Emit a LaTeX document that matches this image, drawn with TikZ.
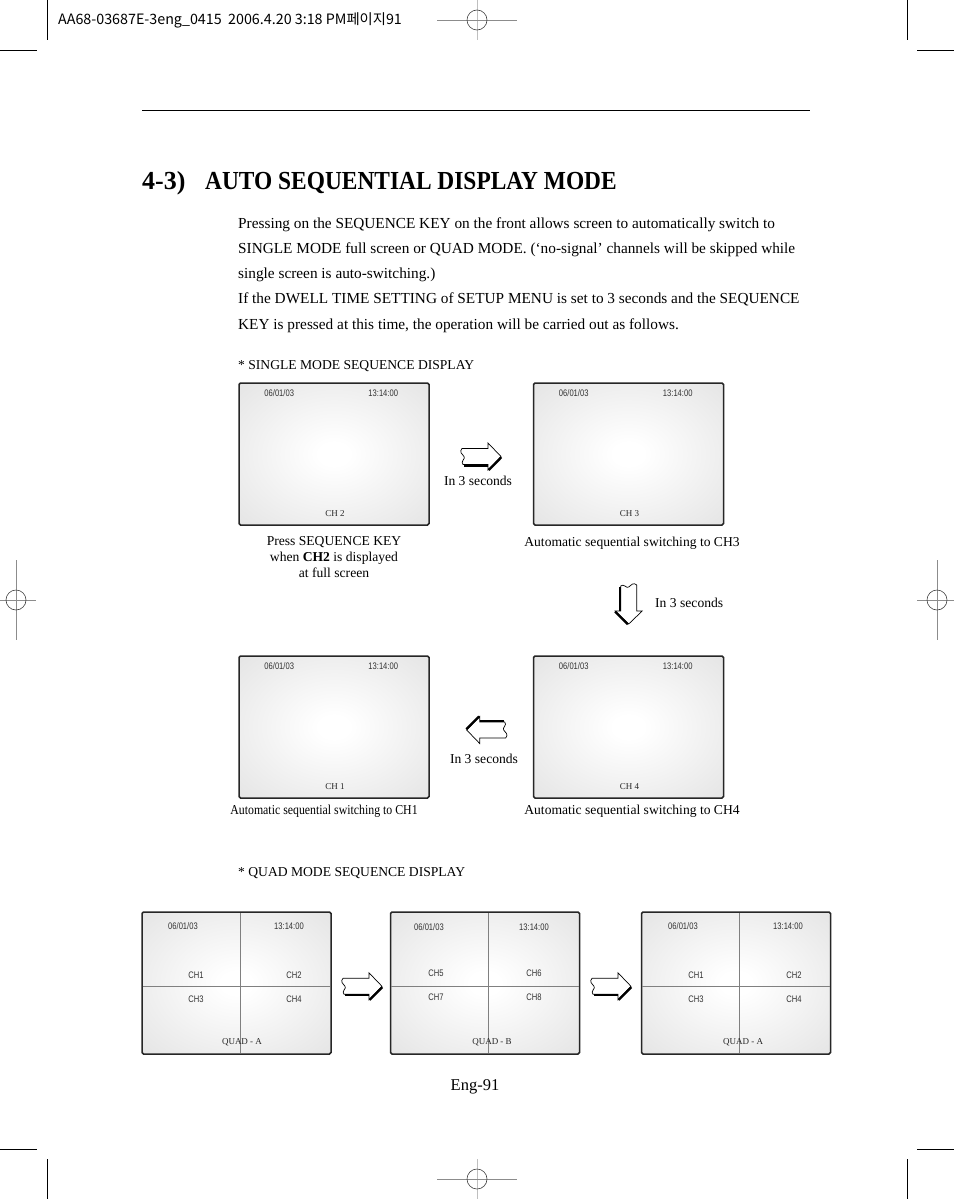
\documentclass[tikz,border=0pt]{standalone}
\usepackage{fontspec}
\setmainfont{Liberation Serif}
\newfontfamily\sansf{Liberation Sans}
\newfontfamily\krf{Noto Sans CJK KR}
\usetikzlibrary{calc}
\pgfdeclareradialshading{screenshade}{\pgfpoint{0bp}{0bp}}{color(0bp)=(white); color(4bp)=(white); color(50bp)=(black!15); color(71bp)=(black!20)}
\newcommand{\nar}[1]{\scalebox{0.8}[1]{#1}}
\tikzset{
  cropline/.style={black, line width=0.9},
  regline/.style={black!45, line width=0.6},
  regvline/.style={black!25, line width=0.8},
  regcirc/.style={black!75, line width=0.6},
  bodytext/.style={font=\fontsize{15.3}{25}\selectfont, anchor=base west, inner sep=0},
  captext/.style={font=\fontsize{13.6}{16}\selectfont, inner sep=0, align=center},
  screen/.style={draw=black!85, line width=1.5, rounded corners=1.5, minimum width=190, minimum height=142, inner sep=0, shading=screenshade},
  datef/.style={font=\sansf\fontsize{9.5}{10}\selectfont, inner sep=0, anchor=west, text=black!80},
  quadf/.style={font=\sansf\fontsize{9.5}{10}\selectfont, inner sep=0, text=black!80},
  chf/.style={font=\fontsize{9}{10}\selectfont, inner sep=0, text=black!85},
  divider/.style={black!50, line width=0.8},
  blockarrow/.pic={
    \draw[line width=0.7, fill=white, line join=miter] (1,-8) -- (27,-8) -- (27,-13.5) -- (40,0) -- (27,13.5) -- (27,8) -- (2,8) .. controls (-1,5) and (5,2) .. (3,0) .. controls (1,-2) and (-2,-5) .. (1,-8) -- cycle;
    \draw[line width=2.3] (3,9) -- (27,9);
    \draw[line width=2.3] (27.6,13.6) -- (40.3,0.8);
  }
}
\newcommand{\singlescreen}[4]{%
  \node[screen] (#1) at (#2,#3) {};
  \node[datef] (#1-date) at ($(#1.north west)+(26,11)$) {\nar{06/01/03}};
  \node[datef] (#1-time) at ($(#1.north west)+(130,11)$) {\nar{13:14:00}};
  \node[chf] (#1-ch) at ($(#1.south)+(1,-12)$) {#4};
}
\begin{document}
\begin{tikzpicture}[x=1pt,y=-1pt]
\useasboundingbox (0,0) rectangle (954,1199);
\fill[white] (0,0) rectangle (954,1199);

% crop marks
\draw[cropline] (47,0) -- (47,40);
\draw[cropline] (0,50) -- (37,50);
\draw[cropline] (907,0) -- (907,40);
\draw[cropline] (917,50) -- (954,50);
\draw[cropline] (0,1149) -- (37,1149);
\draw[cropline] (47,1159) -- (47,1199);
\draw[cropline] (917,1149) -- (954,1149);
\draw[cropline] (907,1159) -- (907,1199);

% registration marks
\draw[regvline] (477,0) -- (477,40);
\draw[regline] (437,20) -- (517,20);
\draw[regcirc] (477,20) circle (10);
\draw[regvline] (477,1159) -- (477,1199);
\draw[regline] (437,1179) -- (517,1179);
\draw[regcirc] (477,1179) circle (10);
\draw[regline] (16,560) -- (16,640);
\draw[regline] (0,600) -- (36,600);
\draw[regcirc] (16,600) circle (10);
\draw[regline] (937,560) -- (937,640);
\draw[regline] (917,600) -- (954,600);
\draw[regcirc] (937,600) circle (10);

% header
\node[anchor=west, inner sep=0, font=\krf\fontsize{14.3}{15}\selectfont] (header) at (58,20) {AA68-03687E-3eng\_0415 \ 2006.4.20 3:18 PM페이지91};

\draw[black, line width=0.9] (142,110) -- (810,110);

% title
\node[anchor=base west, inner sep=0, font=\bfseries\fontsize{26}{28}\selectfont] (num) at (142,189) {4-3)};
\node[anchor=base west, inner sep=0, font=\bfseries\fontsize{26}{28}\selectfont] (title) at (205,189) {\scalebox{0.9}[1]{AUTO SEQUENTIAL DISPLAY MODE}};

% body
\node[bodytext] (l1) at (238,228.5) {Pressing on the SEQUENCE KEY on the front allows screen to automatically switch to};
\node[bodytext] (l2) at (238,253.5) {SINGLE MODE full screen or QUAD MODE. (‘no-signal’ channels will be skipped while};
\node[bodytext] (l3) at (238,278.5) {single screen is auto-switching.)};
\node[bodytext] (l4) at (238,303.5) {If the DWELL TIME SETTING of SETUP MENU is set to 3 seconds and the SEQUENCE};
\node[bodytext] (l5) at (238,329.5) {KEY is pressed at this time, the operation will be carried out as follows.};

\node[captext, anchor=west] (single) at (238,366) {* SINGLE MODE SEQUENCE DISPLAY};

% single screens
\singlescreen{s2}{334}{454}{CH 2}
\singlescreen{s3}{628.5}{454}{CH 3}
\singlescreen{s1}{334}{727}{CH 1}
\singlescreen{s4}{628.5}{727}{CH 4}

% arrows
\pic at (461,456.5) {blockarrow};
\pic[rotate=-90] at (628.7,584) {blockarrow};
\pic[rotate=180] at (506.7,730) {blockarrow};

\node[captext] (t1) at (478,481) {In 3 seconds};
\node[captext, anchor=west] (t2) at (655,603) {In 3 seconds};
\node[captext] (t3) at (484,759) {In 3 seconds};

\node[captext] (c2) at (334,557) {Press SEQUENCE KEY\\when \textbf{CH2} is displayed\\at full screen};
\node[captext] (c3) at (632,543) {Automatic sequential switching to CH3};
\node[captext] (c1) at (324,811) {\scalebox{0.87}[1]{Automatic sequential switching to CH1}};
\node[captext] (c4) at (632,811) {Automatic sequential switching to CH4};

\node[captext, anchor=west] (quad) at (238,873) {* QUAD MODE SEQUENCE DISPLAY};

% quad screens
\node[screen, minimum width=189] (qa) at (236.5,983) {};
\draw[divider] (240,913) -- (240,1053);
\draw[divider] (143,986) -- (330,986);
\node[datef] (qa-date) at (168,926) {\nar{06/01/03}};
\node[datef] (qa-time) at (274,926) {\nar{13:14:00}};
\node[quadf] (qa-1) at (196,975) {\nar{CH1}};
\node[quadf] (qa-2) at (294,975) {\nar{CH2}};
\node[quadf] (qa-3) at (196,999) {\nar{CH3}};
\node[quadf] (qa-4) at (294,999) {\nar{CH4}};
\node[chf] (qa-l) at (242,1042) {QUAD - A};

\node[screen, minimum width=189] (qb) at (485,983) {};
\draw[divider] (488,913) -- (488,1053);
\draw[divider] (391,986) -- (579,986);
\node[datef] (qb-date) at (414,927) {\nar{06/01/03}};
\node[datef] (qb-time) at (519,927) {\nar{13:14:00}};
\node[quadf] (qb-5) at (436,973) {\nar{CH5}};
\node[quadf] (qb-6) at (534,973) {\nar{CH6}};
\node[quadf] (qb-7) at (436,997) {\nar{CH7}};
\node[quadf] (qb-8) at (534,997) {\nar{CH8}};
\node[chf] (qb-l) at (492,1042) {QUAD - B};

\node[screen, minimum width=189] (qc) at (736,983) {};
\draw[divider] (739,913) -- (739,1053);
\draw[divider] (642,986) -- (830,986);
\node[datef] (qc-date) at (668,926) {\nar{06/01/03}};
\node[datef] (qc-time) at (773,926) {\nar{13:14:00}};
\node[quadf] (qc-1) at (696,975) {\nar{CH1}};
\node[quadf] (qc-2) at (794,975) {\nar{CH2}};
\node[quadf] (qc-3) at (696,999) {\nar{CH3}};
\node[quadf] (qc-4) at (794,999) {\nar{CH4}};
\node[chf] (qc-l) at (743,1042) {QUAD - A};

\pic at (342,986.3) {blockarrow};
\pic at (591,986.3) {blockarrow};

\node[inner sep=0, font=\fontsize{16.5}{18}\selectfont] (page) at (475,1087) {Eng-91};
\end{tikzpicture}
\end{document}
